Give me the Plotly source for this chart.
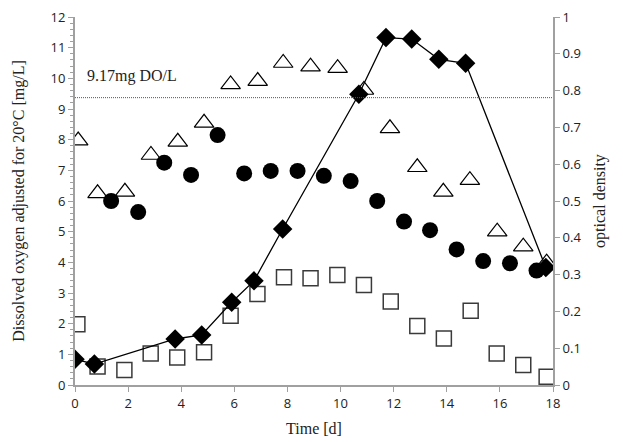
import plotly.graph_objects as go

# Data
od_time = [0.0, 0.73, 3.77, 4.77, 5.9, 6.74, 7.82, 10.69, 11.71, 12.68, 13.7, 14.71, 17.73]
od_value = [0.07, 0.057, 0.125, 0.136, 0.225, 0.283, 0.424, 0.79, 0.944, 0.940, 0.885, 0.874, 0.319]

tri_time = [0.12, 0.85, 1.88, 2.86, 3.87, 4.86, 5.86, 6.88, 7.84, 8.87, 9.89, 10.88, 11.86, 12.89, 13.87, 14.87, 15.9, 16.88, 17.76]
tri_value = [7.97, 6.25, 6.3, 7.5, 7.93, 8.55, 9.8, 9.91, 10.5, 10.38, 10.33, 9.62, 8.37, 7.1, 6.3, 6.68, 5.0, 4.51, 3.99]

circ_time = [1.36, 2.38, 3.36, 4.37, 5.37, 6.37, 7.37, 8.38, 9.37, 10.38, 11.38, 12.39, 13.37, 14.37, 15.37, 16.38, 17.38]
circ_value = [6.0, 5.64, 7.25, 6.85, 8.15, 6.9, 6.98, 6.98, 6.82, 6.65, 6.0, 5.33, 5.05, 4.42, 4.04, 3.97, 3.73]

sq_time = [0.09, 0.85, 1.86, 2.85, 3.85, 4.86, 5.86, 6.87, 7.87, 8.87, 9.88, 10.88, 11.89, 12.89, 13.89, 14.9, 15.88, 16.88, 17.76]
sq_value = [1.98, 0.6, 0.49, 1.03, 0.9, 1.07, 2.26, 2.97, 3.51, 3.48, 3.59, 3.26, 2.72, 1.92, 1.52, 2.42, 1.03, 0.65, 0.27]

do_ref_level = 9.37
do_ref_label = "9.17mg DO/L"

x_ticks = [0, 2, 4, 6, 8, 10, 12, 14, 16, 18]

fig = go.Figure()

fig.add_trace(go.Scatter(
    x=sq_time, y=sq_value, mode="markers",
    marker=dict(symbol="square-open", size=15, color="#3a3a3a", line=dict(width=1.5)),
    showlegend=False))

fig.add_trace(go.Scatter(
    x=tri_time, y=tri_value, mode="markers",
    marker=dict(symbol="triangle-up-open", size=17, color="black", line=dict(width=1.2)),
    showlegend=False))

fig.add_trace(go.Scatter(
    x=circ_time, y=circ_value, mode="markers",
    marker=dict(symbol="circle", size=16, color="black"),
    showlegend=False))

fig.add_trace(go.Scatter(
    x=od_time, y=od_value, mode="lines+markers", yaxis="y2",
    line=dict(color="black", width=1.3),
    marker=dict(symbol="diamond", size=15, color="black"),
    showlegend=False))

fig.add_hline(y=do_ref_level, line=dict(color="#555555", width=1, dash="1px,1px"))

fig.add_annotation(x=0.38, y=10.07, xref="x", yref="y", text=do_ref_label,
                   showarrow=False, xanchor="left", yanchor="middle",
                   font=dict(family="Liberation Serif", size=16, color="#222"))

axis_color = "#a0a0a0"
tick_font = dict(family="Open Sans", size=13, color="#222")
title_font = dict(family="Liberation Serif", size=16, color="#222")

fig.update_layout(
    width=623, height=442,
    margin=dict(l=75, r=70, t=17, b=57),
    paper_bgcolor="white", plot_bgcolor="white",
    xaxis=dict(range=[0, 18], tickvals=x_ticks, showgrid=False, zeroline=False,
               automargin=False,
               showline=True, linecolor=axis_color, linewidth=2,
               ticks="outside", ticklen=5, tickcolor=axis_color,
               tickfont=tick_font,
               title=dict(text="Time [d]", font=title_font, standoff=12)),
    yaxis=dict(range=[0, 12], dtick=1, showgrid=False, zeroline=False,
               automargin=False,
               showline=True, linecolor=axis_color, linewidth=2,
               ticks="outside", ticklen=5, tickcolor=axis_color,
               minor=dict(dtick=0.2, ticks="outside", ticklen=3, tickcolor=axis_color),
               tickfont=tick_font,
               title=dict(text="Dissolved oxygen adjusted for 20°C [mg/L]", font=title_font, standoff=22)),
    yaxis2=dict(range=[0, 1], dtick=0.1, overlaying="y", side="right",
                automargin=False,
                showgrid=False, zeroline=False,
                showline=True, linecolor=axis_color, linewidth=2,
                ticks="outside", ticklen=5, tickcolor=axis_color,
                tickfont=tick_font,
                title=dict(text="optical density", font=title_font, standoff=13)),
)

fig.write_html("out.html")
